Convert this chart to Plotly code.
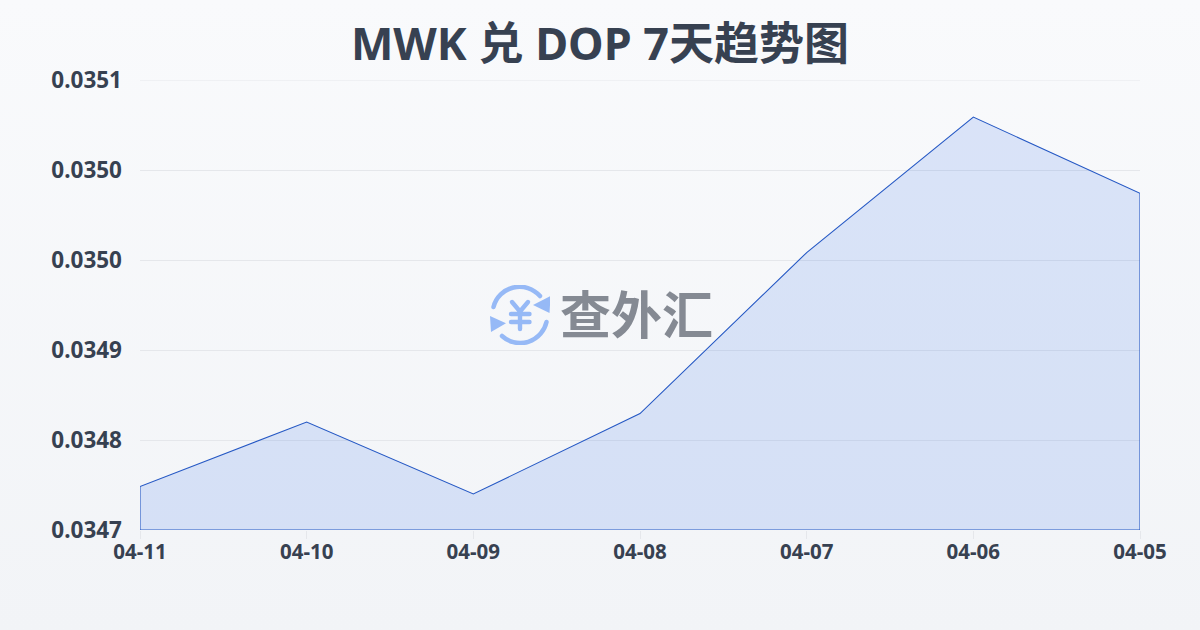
import base64
import plotly.graph_objects as go

dates = ["04-11", "04-10", "04-09", "04-08", "04-07", "04-06", "04-05"]
rates = [0.034741, 0.034802, 0.034734, 0.03481, 0.034962, 0.03509, 0.035018]
y_ticks = [0.0347, 0.034785, 0.03487, 0.034955, 0.03504, 0.035125]
y_labels = ["0.0347", "0.0348", "0.0349", "0.0350", "0.0350", "0.0351"]
title = "MWK 兑 DOP 7天趋势图"
watermark = "查外汇"

FONT = "Noto Sans, Noto Sans CJK SC, sans-serif"
INK = "#374151"
base = y_ticks[0]

bg_svg = ('<svg xmlns="http://www.w3.org/2000/svg" width="1200" height="630">'
          '<defs><linearGradient id="g" x1="0" y1="0" x2="0" y2="1">'
          '<stop offset="0" stop-color="#f9fafc"/><stop offset="1" stop-color="#f2f4f7"/>'
          '</linearGradient></defs><rect width="1200" height="630" fill="url(#g)"/></svg>')
logo_svg = ('<svg xmlns="http://www.w3.org/2000/svg" viewBox="0 0 60 60" width="60" height="60">'
            '<g fill="none" stroke="#96b9f6" stroke-linecap="round">'
            '<path d="M3.5 22 A27 27 0 0 1 50 11" stroke-width="4.5"/>'
            '<path d="M56.5 37 A27 27 0 0 1 12 51" stroke-width="4.5"/>'
            '<path d="M22 17 L30 26.5 L38 17 M21 29 H39.5 M21 37 H39.5 M30 26.5 V44" stroke-width="4.4"/>'
            '</g><g fill="#96b9f6"><path d="M60.5 11 L59.5 28 L43 20 Z"/><path d="M0 31 L16 38.3 L1 47 Z"/></g></svg>')


def uri(s):
    return "data:image/svg+xml;base64," + base64.b64encode(s.encode()).decode()


fig = go.Figure()
fig.add_trace(go.Scatter(
    x=dates + [dates[-1], dates[0], dates[0]],
    y=rates + [base, base, rates[0]],
    mode="lines",
    fill="toself",
    fillcolor="rgba(37,99,235,0.14)",
    line=dict(color="#2558c4", width=1.1),
    cliponaxis=False,
    hoverinfo="skip",
    showlegend=False,
))

fig.update_layout(
    width=1200, height=630,
    margin=dict(l=140, r=60, t=80, b=100),
    autosize=False,
    paper_bgcolor="#f6f7fa",
    plot_bgcolor="rgba(0,0,0,0)",
    font=dict(family=FONT, color=INK),
    title=dict(text=f"<b>{title}</b>", x=0.5, xanchor="center", xref="container",
               y=0.93, yanchor="middle", yref="container",
               font=dict(size=45, color=INK, family=FONT)),
    xaxis=dict(type="category", categoryorder="array", categoryarray=dates,
               range=[0, 6], showgrid=False, zeroline=False, showline=False,
               ticks="outside", ticklen=8, tickcolor="#e5e7eb", tickwidth=1,
               ticklabelstandoff=-5,
               tickfont=dict(size=20.5, color=INK, family=FONT, weight="bold")),
    yaxis=dict(range=[y_ticks[0], y_ticks[-1]], tickvals=y_ticks, ticktext=y_labels,
               showgrid=True, gridcolor="#e5e7eb", gridwidth=1, zeroline=False,
               showline=False, ticks="", ticklabelstandoff=17,
               tickfont=dict(size=22.5, color=INK, family=FONT, weight="bold")),
    shapes=[dict(type="line", xref="paper", x0=0, x1=1, yref="y", y0=y_ticks[-1], y1=y_ticks[-1],
                 line=dict(color="#e5e7eb", width=1), layer="below")],
    images=[
        dict(source=uri(bg_svg), xref="paper", yref="paper", x=-140/1000, y=1+80/450,
             sizex=1.2, sizey=1.4, sizing="stretch", xanchor="left", yanchor="top", layer="below"),
        dict(source=uri(logo_svg), xref="paper", yref="paper", x=(490-140)/1000, y=(530-285)/450,
             sizex=0.06, sizey=60/450, sizing="stretch", xanchor="left", yanchor="top", layer="below"),
    ],
    annotations=[dict(text=f"<b>{watermark}</b>", x=(636-140)/1000, y=(530-312)/450,
                      xref="paper", yref="paper", showarrow=False, xanchor="center", yanchor="middle",
                      font=dict(size=51, color="#858a93", family="Noto Sans CJK SC"))],
)

fig.write_html("out.html", config={"displayModeBar": False},
               post_script="document.body.style.margin='0';document.documentElement.style.overflow='hidden';")
